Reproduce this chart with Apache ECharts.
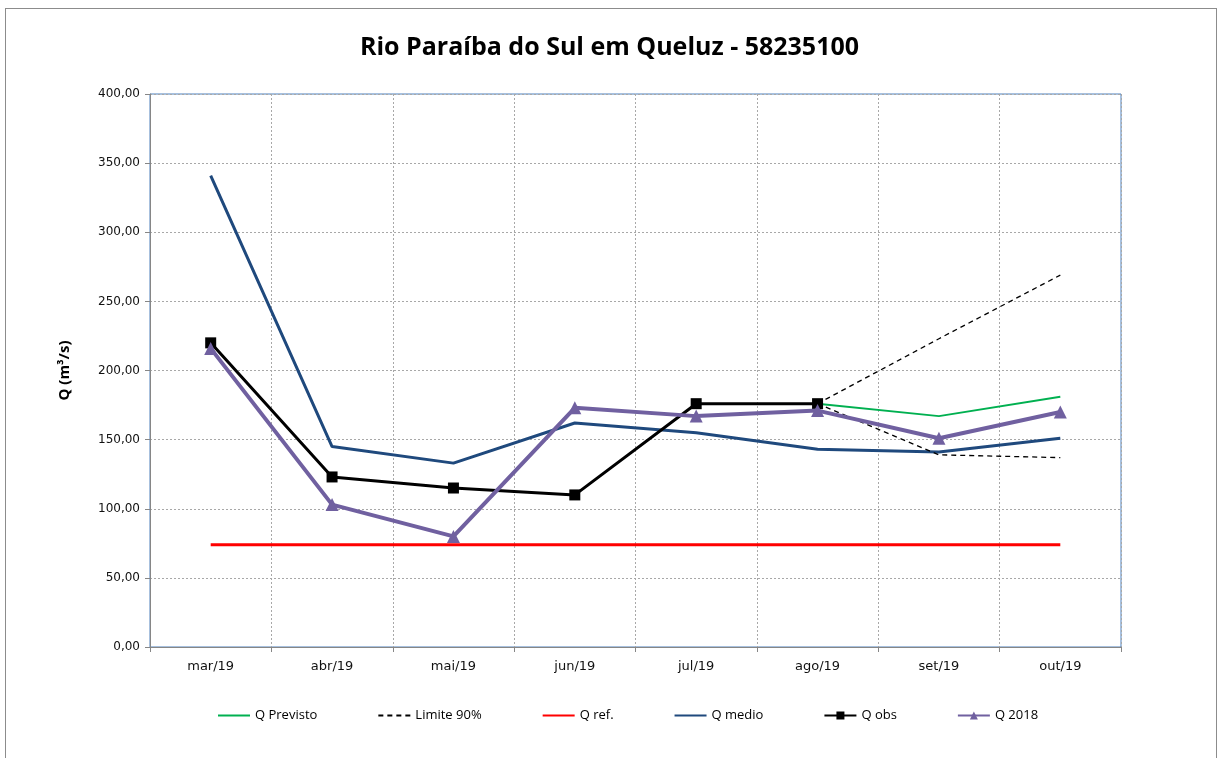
<!DOCTYPE html>
<html>
<head>
<meta charset="utf-8">
<script src="https://cdn.jsdelivr.net/npm/echarts@6/dist/echarts.min.js"></script>
<style>
  html, body { margin: 0; padding: 0; background: #fff; }
  #frame {
    position: absolute; left: 5px; top: 8px; width: 1212px; height: 760px;
    border: 1px solid #8c8c8c; box-sizing: border-box;
  }
  #chart { position: absolute; left: 0; top: 0; width: 1219px; height: 758px; }
</style>
</head>
<body>
<div id="frame"></div>
<div id="chart"></div>
<script>
// categories and values
const months = ["mar/19", "abr/19", "mai/19", "jun/19", "jul/19", "ago/19", "set/19", "out/19"]
const qPrevisto = ["-", "-", "-", "-", "-", 176, 167, 181]
const limiteSup = ["-", "-", "-", "-", "-", 176, 223, 269]
const limiteInf = ["-", "-", "-", "-", "-", 176, 139, 137]
const qRef = [74, 74, 74, 74, 74, 74, 74, 74]
const qMedio = [341, 145, 133, 162, 155, 143, 141, 151]
const qObs = [220, 123, 115, 110, 176, 176, "-", "-"]
const q2018 = [216, 103, 80, 173, 167, 171, 151, 170]

const narrow = "'Liberation Sans Narrow', 'Open Sans', sans-serif"
const tickFont = "'DejaVu Sans', Verdana, sans-serif"

const chart = echarts.init(document.getElementById("chart"))

const dashed = (data) => ({
  name: "Limite 90%",
  type: "line",
  data: data,
  symbol: "none",
  lineStyle: { color: "#000", width: 1.3, type: [5, 4] },
  itemStyle: { color: "#000" },
  z: 3,
})

// line-only series get no marker in the legend
const noMark = (name) => ({ name: name, itemStyle: { opacity: 0 } })

chart.setOption({
  animation: false,
  title: {
    text: "Rio Paraíba do Sul em Queluz - 58235100",
    left: "center",
    top: 30,
    textStyle: { fontFamily: narrow, fontSize: 25, fontWeight: "bold", color: "#000" },
  },
  grid: {
    left: 150, right: 98, top: 94, bottom: 111,
    show: true, borderColor: "#4f81bd", borderWidth: 1,
  },
  legend: {
    bottom: 31,
    left: 212,
    itemGap: 60,
    itemWidth: 32,
    itemHeight: 10,
    textStyle: { fontFamily: narrow, fontSize: 13, color: "#000" },
    data: [
      noMark("Q Previsto"),
      noMark("Limite 90%"),
      noMark("Q ref."),
      noMark("Q medio"),
      "Q obs",
      "Q 2018",
    ],
  },
  xAxis: {
    type: "category",
    data: months,
    boundaryGap: true,
    axisLine: { lineStyle: { color: "#868686", width: 1 } },
    axisTick: { show: true, length: 5, lineStyle: { color: "#868686" } },
    axisLabel: { fontFamily: tickFont, fontSize: 13, color: "#111", margin: 13 },
    splitLine: { show: true, lineStyle: { color: "#a8a8a8", type: [2, 2], width: 1 } },
  },
  yAxis: {
    type: "value",
    min: 0, max: 400, interval: 50,
    name: "Q (m³/s)",
    nameLocation: "middle",
    nameGap: 78,
    nameTextStyle: { fontFamily: narrow, fontSize: 15, fontWeight: "bold", color: "#000" },
    axisLine: { show: true, lineStyle: { color: "#868686", width: 1 } },
    axisTick: { show: true, length: 5, lineStyle: { color: "#868686" } },
    axisLabel: {
      fontFamily: tickFont, fontSize: 12, color: "#111", margin: 10,
      formatter: (v) => v.toFixed(2).replace(".", ","),
    },
    splitLine: { show: true, lineStyle: { color: "#a8a8a8", type: [2, 2], width: 1 } },
  },
  series: [
    {
      name: "Q Previsto",
      type: "line",
      data: qPrevisto,
      symbol: "none",
      lineStyle: { color: "#00b050", width: 2 },
      itemStyle: { color: "#00b050" },
      z: 3,
    },
    dashed(limiteSup),
    dashed(limiteInf),
    {
      name: "Q ref.",
      type: "line",
      data: qRef,
      symbol: "none",
      lineStyle: { color: "#ff0000", width: 3 },
      itemStyle: { color: "#ff0000" },
      z: 2,
    },
    {
      name: "Q medio",
      type: "line",
      data: qMedio,
      symbol: "none",
      lineStyle: { color: "#1f497d", width: 3 },
      itemStyle: { color: "#1f497d" },
      z: 2,
    },
    {
      name: "Q obs",
      type: "line",
      data: qObs,
      symbol: "rect",
      symbolSize: 11,
      lineStyle: { color: "#000", width: 3 },
      itemStyle: { color: "#000" },
      z: 4,
    },
    {
      name: "Q 2018",
      type: "line",
      data: q2018,
      symbol: "triangle",
      symbolSize: 13,
      lineStyle: { color: "#7060a0", width: 4 },
      itemStyle: { color: "#7060a0" },
      z: 5,
    },
  ],
})
</script>
</body>
</html>
